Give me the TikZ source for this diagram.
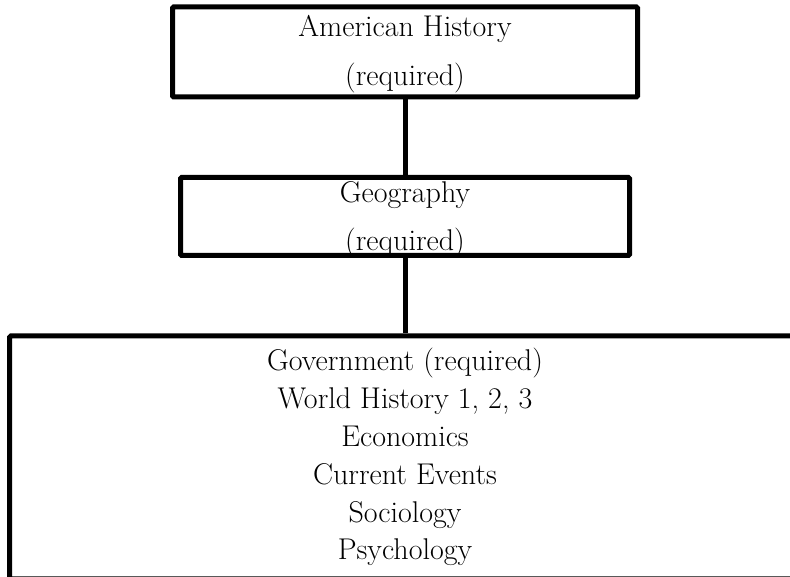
\documentclass[tikz,border=0pt]{standalone}
\usepackage{fontspec}
\usepackage{tikz}

\tikzset{
  course/.style={draw, line width=3.75pt, rounded corners=0.8pt, inner sep=0pt},
  txt/.style={anchor=base, inner sep=0pt, font=\fontsize{22.5}{26}\selectfont},
  link/.style={line width=3.75pt}
}

\begin{document}
\begin{tikzpicture}[x=0.75pt, y=-0.75pt]
    % Page frame, the bottom box runs off the edge
    \clip (0,0) rectangle (790,577);
    % Draw the three course boxes
    \node [course, minimum width=348.75pt, minimum height=67.5pt] (amhist) at (405,52) {};
    \node [course, minimum width=336.75pt, minimum height=58.5pt] (geo) at (405,216.5) {};
    \node [course, minimum width=592.9pt, minimum height=182.25pt] (electives) at (405,457.5) {};
    % Draw connectors between the boxes
    \draw [link] (amhist) -- (geo);
    \draw [link] (geo) -- (electives);
    % Box texts
    \node [txt] (amhist-name) at (405,37) {American History};
    \node [txt] (amhist-req) at (405,86) {(required)};
    \node [txt] (geo-name) at (405,203) {Geography};
    \node [txt] (geo-req) at (405,250.5) {(required)};
    \foreach \course [count=\i] in {Government (required), {World History 1, 2, 3}, Economics, Current Events, Sociology, Psychology}
      \node [txt] (elective-\i) at (405,{371+37.8*(\i-1)}) {\course};
\end{tikzpicture}
\end{document}
